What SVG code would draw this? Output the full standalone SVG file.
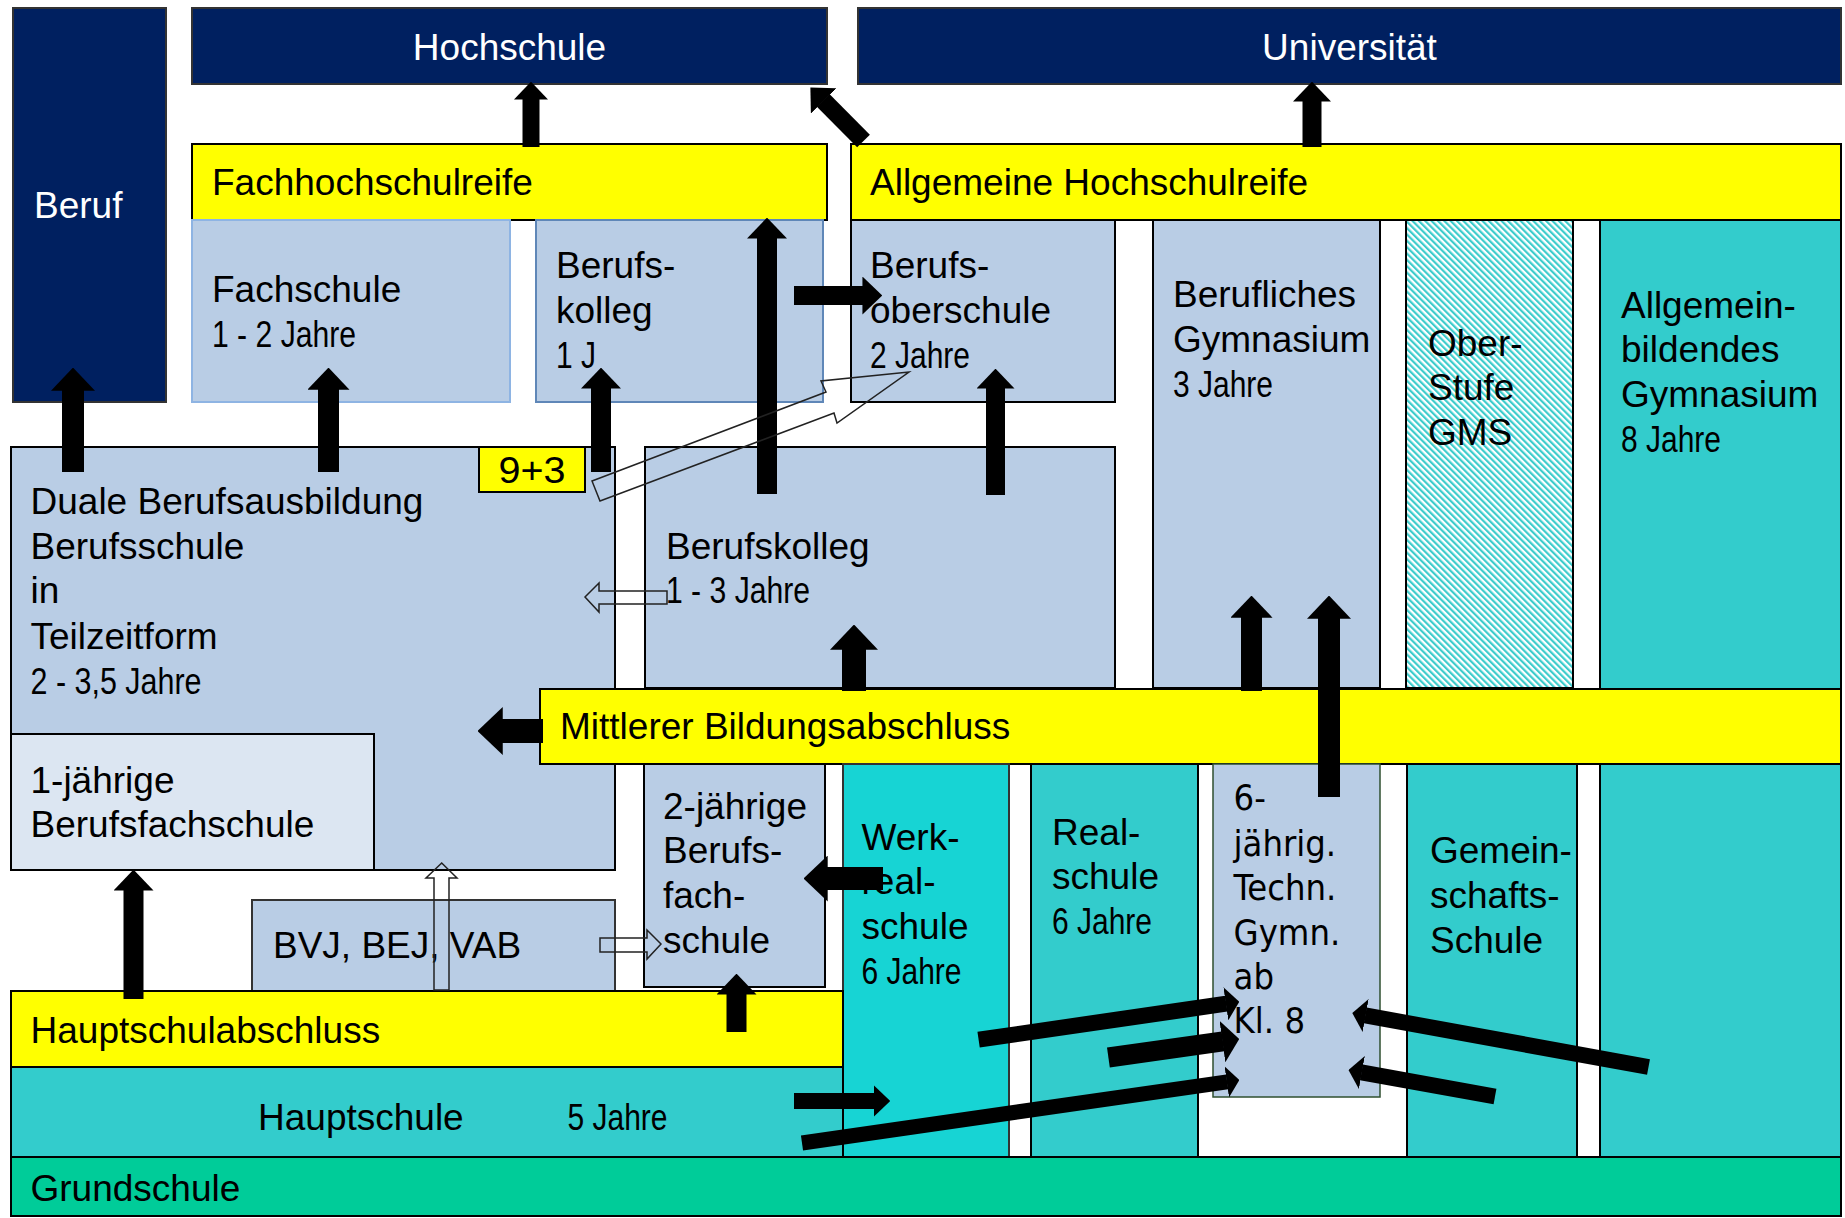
<svg xmlns="http://www.w3.org/2000/svg" width="1845" height="1218" viewBox="0 0 1845 1218">
<defs>
<style>
.t{font-family:"Liberation Sans",Arial,sans-serif;font-size:37px;fill:#000}
.wt{fill:#fff}
.n{font-family:"Liberation Sans Narrow","Arial Narrow","Liberation Sans",sans-serif;font-size:37px;fill:#000}
.g{font-family:"DejaVu Sans Condensed","DejaVu Sans",sans-serif;font-size:36px;fill:#000}
.navy{fill:#002060;stroke:#333;stroke-width:2}
.yel{fill:#FFFF00;stroke:#000;stroke-width:2}
.lb{fill:#B9CDE5;stroke:#000;stroke-width:2}
.teal{fill:#33CCCC;stroke:#000;stroke-width:2}
.arr{stroke:#000;fill:none}
.ol{fill:none;stroke:#222;stroke-width:1.5;stroke-linejoin:miter}
</style>
<marker id="ah" viewBox="0 0 10.5 20" refX="0.3" refY="10" markerWidth="1.05" markerHeight="2" orient="auto" markerUnits="strokeWidth"><path d="M0,0 L10.5,10 L0,20 Z" fill="#000"/></marker>
<marker id="ahs" viewBox="0 0 8.5 21" refX="0.3" refY="10.5" markerWidth="0.85" markerHeight="2.1" orient="auto" markerUnits="strokeWidth"><path d="M0,0 L8.5,10.5 L0,21 Z" fill="#000"/></marker>
<pattern id="hatch" patternUnits="userSpaceOnUse" width="4.5" height="4.5" patternTransform="rotate(-45)"><rect width="4.5" height="4.5" fill="#fff"/><rect width="2.2" height="4.5" fill="#3CCCCC"/></pattern>
</defs>
<rect x="0" y="0" width="1845" height="1218" fill="#fff"/>

<g id="beruf"><rect class="navy" x="13" y="8" width="153" height="394"/><text class="t wt" x="34" y="218">Beruf</text></g>
<g id="hochschule"><rect class="navy" x="192" y="8" width="635" height="76"/><text class="t wt" x="509.5" y="60" text-anchor="middle">Hochschule</text></g>
<g id="universitaet"><rect class="navy" x="858" y="8" width="983" height="76"/><text class="t wt" x="1349.5" y="60" text-anchor="middle">Universität</text></g>
<g id="fachhochschulreife"><rect class="yel" x="192" y="144" width="635" height="76"/><text class="t" x="212" y="195">Fachhochschulreife</text></g>
<g id="allgemeine-hochschulreife"><rect class="yel" x="851" y="144" width="990" height="76"/><text class="t" x="870" y="195">Allgemeine Hochschulreife</text></g>
<g id="fachschule"><rect x="192" y="220" width="318" height="182" fill="#B9CDE5" stroke="#8EB4E3" stroke-width="2"/><text class="t" x="212" y="302">Fachschule</text><text class="n" x="212" y="347" textLength="144" lengthAdjust="spacingAndGlyphs">1 - 2 Jahre</text></g>
<g id="berufskolleg-1j"><rect x="536" y="220" width="287" height="182" fill="#B9CDE5" stroke="#5F87B8" stroke-width="2"/><text class="t" x="556" y="278">Berufs-</text><text class="t" x="556" y="323">kolleg</text><text class="n" x="556" y="368" textLength="40" lengthAdjust="spacingAndGlyphs">1 J</text></g>
<g id="berufsoberschule"><rect class="lb" x="851" y="220" width="264" height="182"/><text class="t" x="870" y="278">Berufs-</text><text class="t" x="870" y="323">oberschule</text><text class="n" x="870" y="368" textLength="100" lengthAdjust="spacingAndGlyphs">2 Jahre</text></g>
<g id="berufliches-gymnasium"><rect class="lb" x="1153" y="220" width="227" height="468"/><text class="t" x="1173" y="307">Berufliches</text><text class="t" x="1173" y="352">Gymnasium</text><text class="n" x="1173" y="397" textLength="100" lengthAdjust="spacingAndGlyphs">3 Jahre</text></g>
<g id="oberstufe-gms"><rect x="1406" y="220" width="167" height="468" fill="url(#hatch)" stroke="#000" stroke-width="2"/><text class="t" x="1428" y="356">Ober-</text><text class="t" x="1428" y="400">Stufe</text><text class="t" x="1428" y="445">GMS</text></g>
<g id="allgemeinbildendes-gymnasium"><rect class="teal" x="1600" y="220" width="241" height="937"/><text class="t" x="1621" y="318">Allgemein-</text><text class="t" x="1621" y="362">bildendes</text><text class="t" x="1621" y="407">Gymnasium</text><text class="n" x="1621" y="452" textLength="100" lengthAdjust="spacingAndGlyphs">8 Jahre</text></g>
<g id="duale-berufsausbildung"><rect class="lb" x="11" y="447" width="604" height="423"/><text class="t" x="30.5" y="514">Duale Berufsausbildung</text><text class="t" x="30.5" y="559">Berufsschule</text><text class="t" x="30.5" y="603">in</text><text class="t" x="30.5" y="648.5">Teilzeitform</text><text class="n" x="30.5" y="693.6" textLength="171" lengthAdjust="spacingAndGlyphs">2 - 3,5 Jahre</text></g>
<g id="neun-plus-drei"><rect class="yel" x="479" y="447" width="106" height="45"/><text class="n" x="532" y="483" text-anchor="middle" textLength="67" lengthAdjust="spacingAndGlyphs">9+3</text></g>
<g id="berufsfachschule-1j"><rect x="11" y="734" width="363" height="136" fill="#DCE6F2" stroke="#000" stroke-width="2"/><text class="t" x="30.5" y="793">1-jährige</text><text class="t" x="30.5" y="837">Berufsfachschule</text></g>
<g id="berufskolleg"><rect class="lb" x="645" y="447" width="470" height="241"/><text class="t" x="666" y="559">Berufskolleg</text><text class="n" x="666" y="603" textLength="144" lengthAdjust="spacingAndGlyphs">1 - 3 Jahre</text></g>
<g id="mittlerer-bildungsabschluss"><rect class="yel" x="540" y="689" width="1301" height="75"/><text class="t" x="560" y="739">Mittlerer Bildungsabschluss</text></g>
<g id="berufsfachschule-2j"><rect class="lb" x="644" y="764" width="181" height="223"/><text class="t" x="663" y="818.6">2-jährige</text><text class="t" x="663" y="863">Berufs-</text><text class="t" x="663" y="908">fach-</text><text class="t" x="663" y="953">schule</text></g>
<g id="werkrealschule"><rect x="843" y="764" width="166" height="393" fill="#17D4D4" stroke="#333" stroke-width="2"/><text class="t" x="861.5" y="849.5">Werk-</text><text class="t" x="861.5" y="894">real-</text><text class="t" x="861.5" y="939">schule</text><text class="n" x="861.5" y="984" textLength="100" lengthAdjust="spacingAndGlyphs">6 Jahre</text></g>
<g id="realschule"><rect class="teal" x="1031" y="764" width="167" height="393"/><text class="t" x="1052" y="844.6">Real-</text><text class="t" x="1052" y="888.7">schule</text><text class="n" x="1052" y="934" textLength="100" lengthAdjust="spacingAndGlyphs">6 Jahre</text></g>
<g id="techn-gymnasium"><rect x="1213" y="764" width="167" height="333" fill="#B9CDE5" stroke="#2F4F2F" stroke-width="1.5"/><text class="g" x="1233.6" y="810">6-</text><text class="g" x="1233.6" y="856">jährig.</text><text class="g" x="1233.6" y="900">Techn.</text><text class="g" x="1233.6" y="945">Gymn.</text><text class="g" x="1233.6" y="989">ab</text><text class="g" x="1233.6" y="1033">Kl. 8</text></g>
<g id="gemeinschaftsschule"><rect class="teal" x="1407" y="764" width="170" height="393"/><text class="t" x="1430" y="862.7">Gemein-</text><text class="t" x="1430" y="908">schafts-</text><text class="t" x="1430" y="952.5">Schule</text></g>
<g id="bvj-bej-vab"><rect x="252" y="900" width="363" height="91" fill="#B9CDE5" stroke="#333" stroke-width="2"/><text class="t" x="273" y="958">BVJ, BEJ, VAB</text></g>
<g id="hauptschulabschluss"><rect class="yel" x="11" y="991" width="832" height="76"/><text class="t" x="30.5" y="1043">Hauptschulabschluss</text></g>
<g id="hauptschule"><rect class="teal" x="11" y="1067" width="832" height="90"/><text class="t" x="258" y="1130">Hauptschule</text><text class="n" x="567.5" y="1130" textLength="100" lengthAdjust="spacingAndGlyphs">5 Jahre</text></g>
<g id="grundschule"><rect x="11" y="1157" width="1830" height="59" fill="#00CC99" stroke="#000" stroke-width="2"/><text class="t" x="30.5" y="1201">Grundschule</text></g>

<g id="connectors">
<g marker-end="url(#ah)" class="arr">
<line x1="73" y1="472" x2="73" y2="390" stroke-width="22"/>
<line x1="328.5" y1="472" x2="328.5" y2="389" stroke-width="21"/>
<line x1="601" y1="472" x2="601" y2="388" stroke-width="20"/>
<line x1="767" y1="494" x2="767" y2="238" stroke-width="20"/>
<line x1="531" y1="147" x2="531" y2="99" stroke-width="17"/>
<line x1="863.5" y1="141" x2="823.3" y2="100.5" stroke-width="18"/>
<line x1="1312" y1="147" x2="1312" y2="101" stroke-width="19"/>
<line x1="794" y1="295.5" x2="863" y2="295.5" stroke-width="19"/>
<line x1="995.5" y1="495" x2="995.5" y2="388" stroke-width="19"/>
<line x1="854" y1="691" x2="854" y2="649" stroke-width="24"/>
<line x1="543" y1="731" x2="502" y2="731" stroke-width="24"/>
<line x1="1251.5" y1="691" x2="1251.5" y2="617" stroke-width="21"/>
<line x1="1329" y1="797" x2="1329" y2="618" stroke-width="22"/>
<line x1="883" y1="878.5" x2="827" y2="878.5" stroke-width="23"/>
<line x1="736.5" y1="1032" x2="736.5" y2="994" stroke-width="20"/>
<line x1="133.5" y1="999" x2="133.5" y2="890" stroke-width="20"/>
<line x1="794" y1="1101" x2="874" y2="1101" stroke-width="16"/>
</g>
<g marker-end="url(#ahs)" class="arr">
<line x1="978.6" y1="1039.7" x2="1226.3" y2="1003.7" stroke-width="16"/>
<line x1="1108.4" y1="1057.5" x2="1223" y2="1041.4" stroke-width="20"/>
<line x1="802" y1="1143" x2="1227.2" y2="1081.8" stroke-width="15"/>
<line x1="1648.5" y1="1067" x2="1365.2" y2="1015.4" stroke-width="16"/>
<line x1="1495" y1="1096.5" x2="1361.4" y2="1072.4" stroke-width="16"/>
</g>
<polygon class="ol" points="592,481 826,392 821,381 909,372 837,423 834,413 600,501"/>
<polygon class="ol" points="667,591 599,591 599,583 585,597 599,612 599,604 667,604"/>
<polygon class="ol" points="434,990 434,878 426,878 441.7,863 457,878 449,878 449,990"/>
<polygon class="ol" points="600,938 647,938 647,930 661,944 647,959 647,952 600,952"/>
</g>
</svg>
